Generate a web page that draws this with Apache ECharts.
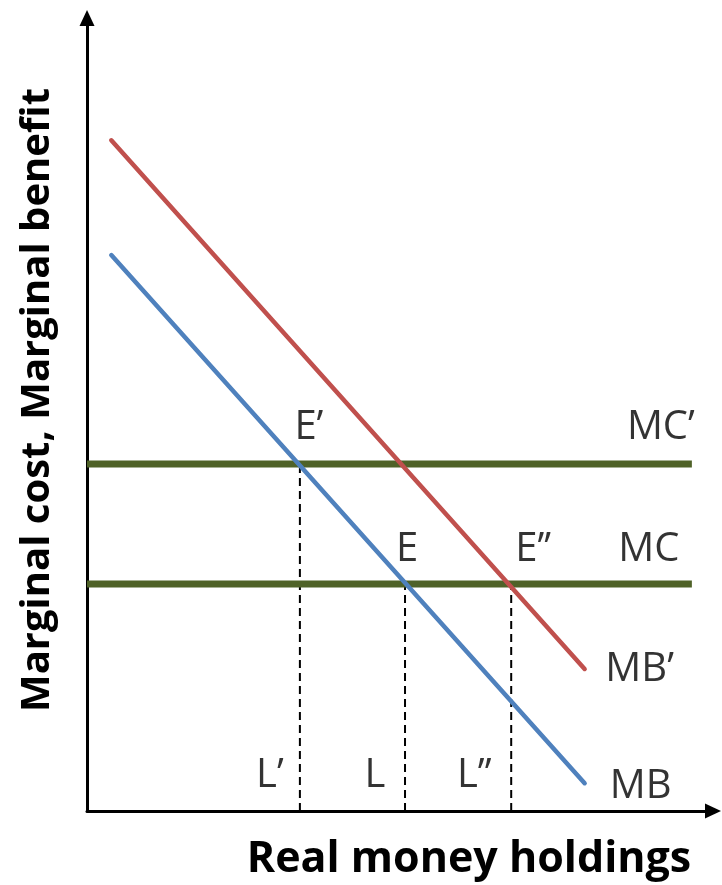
<!DOCTYPE html>
<html>
<head>
<meta charset="utf-8">
<script src="https://cdn.jsdelivr.net/npm/echarts@6/dist/echarts.min.js"></script>
<style>html,body{margin:0;padding:0;background:#fff}#c{width:722px;height:885px}</style>
</head>
<body>
<div id="c"></div>
<script>
// ---- data (abstract units) ----
const curveX = [4.6, 94.2];          // start / end of the MB curves
const mbPrimeY = [125.6, 26.6];      // MB'
const mbY = [104.1, 5.2];            // MB
const mcExtent = [0, 114.5];         // horizontal MC lines span
const mcPrimeLevel = 65;             // MC'
const mcLevel = 42.5;                // MC
const lPrime = 40.3;                 // L'
const lMid = 60.2;                   // L
const lDouble = 80.3;                // L''
const xTitle = 'Real money holdings';
const yTitle = 'Marginal cost, Marginal benefit';

const chart = echarts.init(document.getElementById('c'), null, {renderer: 'canvas'});
const FONT = '"Open Sans", sans-serif';
const RED = '#C0504D', BLUE = '#4F81BD', GREEN = '#4F6228';

function lineSeries(name, pts, color, width, type, cap, z) {
  return {
    name, type: 'line', data: pts, symbol: 'none', silent: true, z,
    lineStyle: {color, width, type, cap: cap || 'butt'}, animation: false
  };
}
function lab(x, y, text, offset) {
  return {value: [x, y], label: {formatter: text, offset, color: '#000'}};
}

const labels = [
  lab(lPrime, mcPrimeLevel, 'E\u2019', [9, -36]),
  lab(lMid, mcLevel, 'E', [2, -34]),
  lab(lDouble, mcLevel, 'E\u2019\u2019', [22, -34]),
  lab(mcExtent[1], mcPrimeLevel, 'MC\u2019', [-31, -36]),
  lab(mcExtent[1], mcLevel, 'MC', [-43, -34]),
  lab(curveX[1], mbPrimeY[1], 'MB\u2019', [55, 1]),
  lab(curveX[1], mbY[1], 'MB', [56, 3]),
  lab(lPrime, 0, 'L\u2019', [-30, -35]),
  lab(lMid, 0, 'L', [-30, -35]),
  lab(lDouble, 0, 'L\u2019\u2019', [-37, -35])
];

const axisCommon = {
  type: 'value', min: 0,
  axisLine: {show: true, symbol: ['none', 'triangle'], symbolSize: [15, 16],
    lineStyle: {color: '#000', width: 3}},
  axisTick: {show: false}, axisLabel: {show: false}, splitLine: {show: false}
};

chart.setOption({
  animation: false,
  grid: {left: 87, right: 9, top: 18, bottom: 74, containLabel: false},
  xAxis: Object.assign({}, axisCommon, {max: 118.5}),
  yAxis: Object.assign({}, axisCommon, {max: 148.5}),
  series: [
    lineSeries('MC\u2019', [[mcExtent[0], mcPrimeLevel], [mcExtent[1], mcPrimeLevel]], GREEN, 7, 'solid', 'butt', 2),
    lineSeries('MC', [[mcExtent[0], mcLevel], [mcExtent[1], mcLevel]], GREEN, 7, 'solid', 'butt', 2),
    lineSeries('L\u2019', [[lPrime, 0], [lPrime, mcPrimeLevel]], '#000', 2, [8, 5], 'butt', 1),
    lineSeries('L', [[lMid, 0], [lMid, mcLevel]], '#000', 2, [8, 5], 'butt', 1),
    lineSeries('L\u2019\u2019', [[lDouble, 0], [lDouble, mcLevel]], '#000', 2, [8, 5], 'butt', 1),
    lineSeries('MB\u2019', [[curveX[0], mbPrimeY[0]], [curveX[1], mbPrimeY[1]]], RED, 4.5, 'solid', 'round', 3),
    lineSeries('MB', [[curveX[0], mbY[0]], [curveX[1], mbY[1]]], BLUE, 4.5, 'solid', 'round', 3),
    {
      type: 'scatter', symbolSize: 0, silent: true, z: 5, data: labels,
      label: {show: true, position: [0, 0], align: 'center', verticalAlign: 'middle',
        color: '#000', textBorderWidth: 0, fontFamily: FONT, fontSize: 40}
    }
  ],
  graphic: [
    {type: 'text', silent: true, x: 469, y: 860,
      style: {text: xTitle, x: 0, y: 0, align: 'center', verticalAlign: 'middle',
        font: 'bold 43px ' + FONT, fill: '#000'}},
    {type: 'text', silent: true, x: 38, y: 400, rotation: Math.PI / 2,
      style: {text: yTitle, x: 0, y: 0, align: 'center', verticalAlign: 'middle',
        font: 'bold 40px ' + FONT, fill: '#000'}}
  ]
});
</script>
</body>
</html>
